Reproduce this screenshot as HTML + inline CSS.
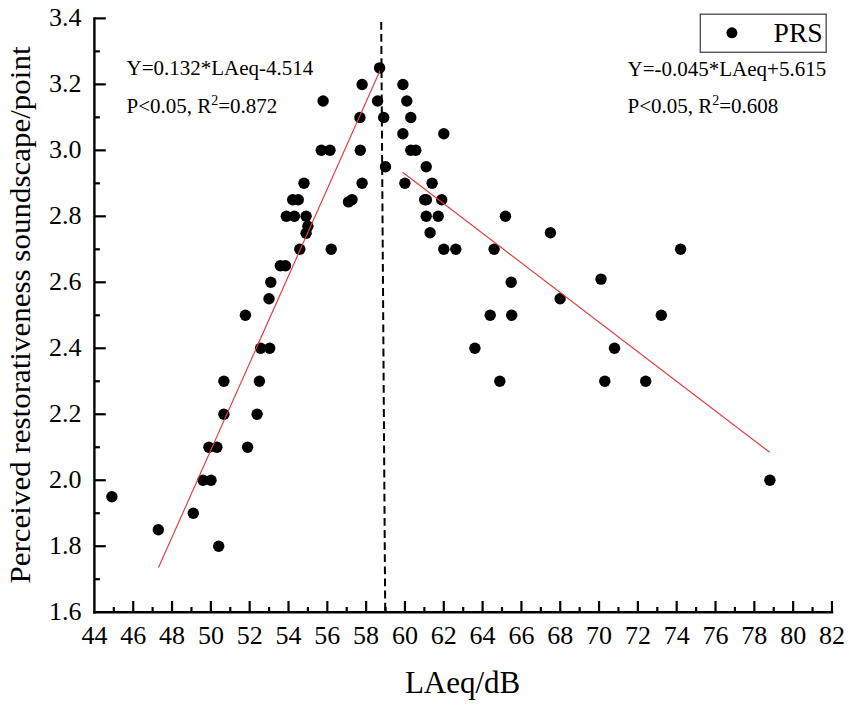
<!DOCTYPE html>
<html><head><meta charset="utf-8"><style>
html,body{margin:0;padding:0;background:#fff;}
svg{display:block;}
text{font-family:"Liberation Serif",serif;fill:#000;}
.tl{font-size:26px;}
.eq{font-size:21px;}
.sup{font-size:14px;}
.lg{font-size:27.6px;}
.at{font-size:31px;}
</style></head><body>
<svg width="851" height="706" viewBox="0 0 851 706">
<rect width="851" height="706" fill="#fff"/>
<line x1="94.40" y1="579.21" x2="99.90" y2="579.21" stroke="#000" stroke-width="2.2"/>
<line x1="94.40" y1="546.22" x2="105.80" y2="546.22" stroke="#000" stroke-width="2.2"/>
<line x1="94.40" y1="513.23" x2="99.90" y2="513.23" stroke="#000" stroke-width="2.2"/>
<line x1="94.40" y1="480.24" x2="105.80" y2="480.24" stroke="#000" stroke-width="2.2"/>
<line x1="94.40" y1="447.25" x2="99.90" y2="447.25" stroke="#000" stroke-width="2.2"/>
<line x1="94.40" y1="414.26" x2="105.80" y2="414.26" stroke="#000" stroke-width="2.2"/>
<line x1="94.40" y1="381.27" x2="99.90" y2="381.27" stroke="#000" stroke-width="2.2"/>
<line x1="94.40" y1="348.28" x2="105.80" y2="348.28" stroke="#000" stroke-width="2.2"/>
<line x1="94.40" y1="315.29" x2="99.90" y2="315.29" stroke="#000" stroke-width="2.2"/>
<line x1="94.40" y1="282.30" x2="105.80" y2="282.30" stroke="#000" stroke-width="2.2"/>
<line x1="94.40" y1="249.31" x2="99.90" y2="249.31" stroke="#000" stroke-width="2.2"/>
<line x1="94.40" y1="216.32" x2="105.80" y2="216.32" stroke="#000" stroke-width="2.2"/>
<line x1="94.40" y1="183.33" x2="99.90" y2="183.33" stroke="#000" stroke-width="2.2"/>
<line x1="94.40" y1="150.34" x2="105.80" y2="150.34" stroke="#000" stroke-width="2.2"/>
<line x1="94.40" y1="117.35" x2="99.90" y2="117.35" stroke="#000" stroke-width="2.2"/>
<line x1="94.40" y1="84.36" x2="105.80" y2="84.36" stroke="#000" stroke-width="2.2"/>
<line x1="94.40" y1="51.37" x2="99.90" y2="51.37" stroke="#000" stroke-width="2.2"/>
<line x1="94.40" y1="18.38" x2="105.80" y2="18.38" stroke="#000" stroke-width="2.2"/>
<line x1="113.81" y1="612.20" x2="113.81" y2="607.00" stroke="#000" stroke-width="2.2"/>
<line x1="133.22" y1="612.20" x2="133.22" y2="601.00" stroke="#000" stroke-width="2.2"/>
<line x1="152.63" y1="612.20" x2="152.63" y2="607.00" stroke="#000" stroke-width="2.2"/>
<line x1="172.04" y1="612.20" x2="172.04" y2="601.00" stroke="#000" stroke-width="2.2"/>
<line x1="191.45" y1="612.20" x2="191.45" y2="607.00" stroke="#000" stroke-width="2.2"/>
<line x1="210.86" y1="612.20" x2="210.86" y2="601.00" stroke="#000" stroke-width="2.2"/>
<line x1="230.27" y1="612.20" x2="230.27" y2="607.00" stroke="#000" stroke-width="2.2"/>
<line x1="249.68" y1="612.20" x2="249.68" y2="601.00" stroke="#000" stroke-width="2.2"/>
<line x1="269.09" y1="612.20" x2="269.09" y2="607.00" stroke="#000" stroke-width="2.2"/>
<line x1="288.50" y1="612.20" x2="288.50" y2="601.00" stroke="#000" stroke-width="2.2"/>
<line x1="307.91" y1="612.20" x2="307.91" y2="607.00" stroke="#000" stroke-width="2.2"/>
<line x1="327.32" y1="612.20" x2="327.32" y2="601.00" stroke="#000" stroke-width="2.2"/>
<line x1="346.73" y1="612.20" x2="346.73" y2="607.00" stroke="#000" stroke-width="2.2"/>
<line x1="366.14" y1="612.20" x2="366.14" y2="601.00" stroke="#000" stroke-width="2.2"/>
<line x1="385.55" y1="612.20" x2="385.55" y2="607.00" stroke="#000" stroke-width="2.2"/>
<line x1="404.96" y1="612.20" x2="404.96" y2="601.00" stroke="#000" stroke-width="2.2"/>
<line x1="424.37" y1="612.20" x2="424.37" y2="607.00" stroke="#000" stroke-width="2.2"/>
<line x1="443.78" y1="612.20" x2="443.78" y2="601.00" stroke="#000" stroke-width="2.2"/>
<line x1="463.19" y1="612.20" x2="463.19" y2="607.00" stroke="#000" stroke-width="2.2"/>
<line x1="482.60" y1="612.20" x2="482.60" y2="601.00" stroke="#000" stroke-width="2.2"/>
<line x1="502.01" y1="612.20" x2="502.01" y2="607.00" stroke="#000" stroke-width="2.2"/>
<line x1="521.42" y1="612.20" x2="521.42" y2="601.00" stroke="#000" stroke-width="2.2"/>
<line x1="540.83" y1="612.20" x2="540.83" y2="607.00" stroke="#000" stroke-width="2.2"/>
<line x1="560.24" y1="612.20" x2="560.24" y2="601.00" stroke="#000" stroke-width="2.2"/>
<line x1="579.65" y1="612.20" x2="579.65" y2="607.00" stroke="#000" stroke-width="2.2"/>
<line x1="599.06" y1="612.20" x2="599.06" y2="601.00" stroke="#000" stroke-width="2.2"/>
<line x1="618.47" y1="612.20" x2="618.47" y2="607.00" stroke="#000" stroke-width="2.2"/>
<line x1="637.88" y1="612.20" x2="637.88" y2="601.00" stroke="#000" stroke-width="2.2"/>
<line x1="657.29" y1="612.20" x2="657.29" y2="607.00" stroke="#000" stroke-width="2.2"/>
<line x1="676.70" y1="612.20" x2="676.70" y2="601.00" stroke="#000" stroke-width="2.2"/>
<line x1="696.11" y1="612.20" x2="696.11" y2="607.00" stroke="#000" stroke-width="2.2"/>
<line x1="715.52" y1="612.20" x2="715.52" y2="601.00" stroke="#000" stroke-width="2.2"/>
<line x1="734.93" y1="612.20" x2="734.93" y2="607.00" stroke="#000" stroke-width="2.2"/>
<line x1="754.34" y1="612.20" x2="754.34" y2="601.00" stroke="#000" stroke-width="2.2"/>
<line x1="773.75" y1="612.20" x2="773.75" y2="607.00" stroke="#000" stroke-width="2.2"/>
<line x1="793.16" y1="612.20" x2="793.16" y2="601.00" stroke="#000" stroke-width="2.2"/>
<line x1="812.57" y1="612.20" x2="812.57" y2="607.00" stroke="#000" stroke-width="2.2"/>
<line x1="831.98" y1="612.20" x2="831.98" y2="601.00" stroke="#000" stroke-width="2.2"/>
<line x1="94.40" y1="17.15" x2="94.40" y2="613.6" stroke="#000" stroke-width="2.4"/>
<line x1="93.2" y1="612.3" x2="833.2" y2="612.3" stroke="#000" stroke-width="2.6"/>
<line x1="381.2" y1="21.9" x2="385.2" y2="611" stroke="#000" stroke-width="2" stroke-dasharray="7.8 4.3"/>
<circle cx="111.9" cy="496.7" r="5.7"/>
<circle cx="158.3" cy="529.7" r="5.7"/>
<circle cx="193.3" cy="513.2" r="5.7"/>
<circle cx="218.7" cy="546.2" r="5.7"/>
<circle cx="203" cy="480.2" r="5.7"/>
<circle cx="211" cy="480.2" r="5.7"/>
<circle cx="208.9" cy="447.3" r="5.7"/>
<circle cx="216.9" cy="447.3" r="5.7"/>
<circle cx="247.6" cy="447.3" r="5.7"/>
<circle cx="223.9" cy="414.3" r="5.7"/>
<circle cx="257.1" cy="414.3" r="5.7"/>
<circle cx="223.9" cy="381.3" r="5.7"/>
<circle cx="259.4" cy="381.3" r="5.7"/>
<circle cx="260.6" cy="348.3" r="5.7"/>
<circle cx="269.7" cy="348.3" r="5.7"/>
<circle cx="245.4" cy="315.3" r="5.7"/>
<circle cx="269" cy="298.8" r="5.7"/>
<circle cx="270.8" cy="282.3" r="5.7"/>
<circle cx="280.3" cy="265.8" r="5.7"/>
<circle cx="285.5" cy="265.8" r="5.7"/>
<circle cx="299.8" cy="249.3" r="5.7"/>
<circle cx="331.2" cy="249.3" r="5.7"/>
<circle cx="306.1" cy="233.3" r="5.7"/>
<circle cx="307.9" cy="226.3" r="5.7"/>
<circle cx="286.3" cy="216.3" r="5.7"/>
<circle cx="294.4" cy="216.3" r="5.7"/>
<circle cx="306.1" cy="216.3" r="5.7"/>
<circle cx="292.7" cy="199.8" r="5.7"/>
<circle cx="298.3" cy="199.8" r="5.7"/>
<circle cx="348.5" cy="201.9" r="5.7"/>
<circle cx="352" cy="199.6" r="5.7"/>
<circle cx="304" cy="183.3" r="5.7"/>
<circle cx="362.1" cy="183.3" r="5.7"/>
<circle cx="385.5" cy="166.8" r="5.7"/>
<circle cx="321.3" cy="150.3" r="5.7"/>
<circle cx="330" cy="150.3" r="5.7"/>
<circle cx="360.3" cy="150.3" r="5.7"/>
<circle cx="359.9" cy="117.5" r="5.7"/>
<circle cx="383.7" cy="117.5" r="5.7"/>
<circle cx="323.1" cy="101" r="5.7"/>
<circle cx="377.6" cy="101" r="5.7"/>
<circle cx="362.1" cy="84.5" r="5.7"/>
<circle cx="379.6" cy="67.9" r="5.7"/>
<circle cx="402.9" cy="84.5" r="5.7"/>
<circle cx="406.8" cy="101" r="5.7"/>
<circle cx="410.8" cy="117.5" r="5.7"/>
<circle cx="402.9" cy="133.8" r="5.7"/>
<circle cx="443.8" cy="133.8" r="5.7"/>
<circle cx="410.8" cy="150.3" r="5.7"/>
<circle cx="415.8" cy="150.3" r="5.7"/>
<circle cx="426.2" cy="166.8" r="5.7"/>
<circle cx="404.9" cy="183.3" r="5.7"/>
<circle cx="432.1" cy="183.3" r="5.7"/>
<circle cx="424.7" cy="199.8" r="5.7"/>
<circle cx="426.4" cy="199.8" r="5.7"/>
<circle cx="441.7" cy="199.8" r="5.7"/>
<circle cx="426.2" cy="216.3" r="5.7"/>
<circle cx="438.2" cy="216.3" r="5.7"/>
<circle cx="505.5" cy="216.3" r="5.7"/>
<circle cx="430.1" cy="232.8" r="5.7"/>
<circle cx="550.4" cy="232.8" r="5.7"/>
<circle cx="443.8" cy="249.3" r="5.7"/>
<circle cx="455.8" cy="249.3" r="5.7"/>
<circle cx="494.1" cy="249.3" r="5.7"/>
<circle cx="680.6" cy="249.3" r="5.7"/>
<circle cx="601" cy="279.1" r="5.7"/>
<circle cx="511.2" cy="282.3" r="5.7"/>
<circle cx="560.1" cy="298.8" r="5.7"/>
<circle cx="490.2" cy="315.3" r="5.7"/>
<circle cx="511.7" cy="315.3" r="5.7"/>
<circle cx="661.3" cy="315.3" r="5.7"/>
<circle cx="474.9" cy="348.3" r="5.7"/>
<circle cx="614.5" cy="348.3" r="5.7"/>
<circle cx="499.8" cy="381.3" r="5.7"/>
<circle cx="604.8" cy="381.3" r="5.7"/>
<circle cx="645.7" cy="381.3" r="5.7"/>
<circle cx="769.9" cy="480.2" r="5.7"/>
<line x1="158.5" y1="567.5" x2="379.8" y2="71.1" stroke="#e03c40" stroke-width="1.15"/>
<line x1="402.6" y1="172.3" x2="769.7" y2="452.3" stroke="#e03c40" stroke-width="1.15"/>
<text x="81.5" y="619.5" text-anchor="end" class="tl">1.6</text>
<text x="81.5" y="553.5" text-anchor="end" class="tl">1.8</text>
<text x="81.5" y="487.5" text-anchor="end" class="tl">2.0</text>
<text x="81.5" y="421.6" text-anchor="end" class="tl">2.2</text>
<text x="81.5" y="355.6" text-anchor="end" class="tl">2.4</text>
<text x="81.5" y="289.6" text-anchor="end" class="tl">2.6</text>
<text x="81.5" y="223.6" text-anchor="end" class="tl">2.8</text>
<text x="81.5" y="157.6" text-anchor="end" class="tl">3.0</text>
<text x="81.5" y="91.7" text-anchor="end" class="tl">3.2</text>
<text x="81.5" y="25.7" text-anchor="end" class="tl">3.4</text>
<text x="94.4" y="644.1" text-anchor="middle" class="tl">44</text>
<text x="133.2" y="644.1" text-anchor="middle" class="tl">46</text>
<text x="172.0" y="644.1" text-anchor="middle" class="tl">48</text>
<text x="210.9" y="644.1" text-anchor="middle" class="tl">50</text>
<text x="249.7" y="644.1" text-anchor="middle" class="tl">52</text>
<text x="288.5" y="644.1" text-anchor="middle" class="tl">54</text>
<text x="327.3" y="644.1" text-anchor="middle" class="tl">56</text>
<text x="366.1" y="644.1" text-anchor="middle" class="tl">58</text>
<text x="405.0" y="644.1" text-anchor="middle" class="tl">60</text>
<text x="443.8" y="644.1" text-anchor="middle" class="tl">62</text>
<text x="482.6" y="644.1" text-anchor="middle" class="tl">64</text>
<text x="521.4" y="644.1" text-anchor="middle" class="tl">66</text>
<text x="560.2" y="644.1" text-anchor="middle" class="tl">68</text>
<text x="599.1" y="644.1" text-anchor="middle" class="tl">70</text>
<text x="637.9" y="644.1" text-anchor="middle" class="tl">72</text>
<text x="676.7" y="644.1" text-anchor="middle" class="tl">74</text>
<text x="715.5" y="644.1" text-anchor="middle" class="tl">76</text>
<text x="754.3" y="644.1" text-anchor="middle" class="tl">78</text>
<text x="793.2" y="644.1" text-anchor="middle" class="tl">80</text>
<text x="832.0" y="644.1" text-anchor="middle" class="tl">82</text>
<rect x="700.3" y="14.2" width="125.9" height="38.1" fill="none" stroke="#555" stroke-width="1.4"/>
<circle cx="731.9" cy="32.8" r="5.5"/>
<text x="773.6" y="42.2" class="lg">PRS</text>
<text x="126.5" y="74.7" class="eq">Y=0.132*LAeq-4.514</text>
<text x="126.5" y="112.6" class="eq">P&lt;0.05, R<tspan dy="-8" class="sup">2</tspan><tspan dy="8">=0.872</tspan></text>
<text x="627.5" y="75.7" class="eq">Y=-0.045*LAeq+5.615</text>
<text x="627.5" y="113.2" class="eq">P&lt;0.05, R<tspan dy="-8" class="sup">2</tspan><tspan dy="8">=0.608</tspan></text>
<text x="462.6" y="692.8" text-anchor="middle" class="at">LAeq/dB</text>
<text transform="translate(30.0,315.0) rotate(-90) scale(1,0.94)" text-anchor="middle" class="at">Perceived restorativeness soundscape/point</text>
</svg>
</body></html>
